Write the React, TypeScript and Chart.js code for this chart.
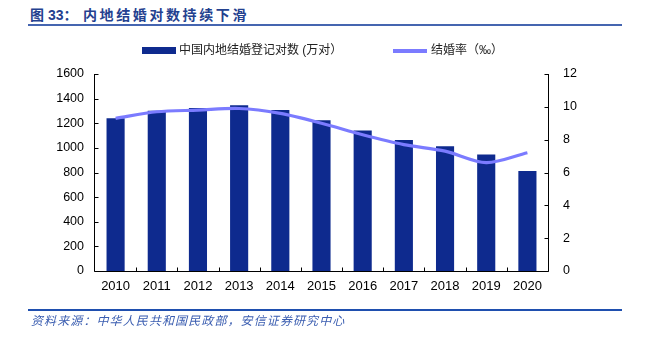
import React, { useEffect, useRef } from "react";
import { Chart, registerables } from "chart.js";

Chart.register(...registerables);

const years = ["2010", "2011", "2012", "2013", "2014", "2015", "2016", "2017", "2018", "2019", "2020"];
const marriages = [1241, 1302, 1324, 1347, 1307, 1225, 1142, 1063, 1014, 947, 813];
const rates = [9.3, 9.7, 9.8, 9.9, 9.6, 9.0, 8.3, 7.7, 7.3, 6.6, 7.2];
const leftMax = 1600;
const leftStep = 200;
const rightMax = 12;
const rightStep = 2;

const barLabel = "中国内地结婚登记对数 (万对）";
const lineLabel = "结婚率（‰）";
const titlePrefix = "图 33：";
const titleText = "内地结婚对数持续下滑";
const sourceText = "资料来源：中华人民共和国民政部，安信证券研究中心";

const BAR_COLOR = "#0E2A8E";
const LINE_COLOR = "#7B7BFF";
const NUM_FONT = "'Liberation Sans', Arial, 'Noto Sans CJK SC', sans-serif";
const CJK_FONT = "'Liberation Sans', 'Noto Sans CJK SC', sans-serif";

const axisPlugin = {
  id: "axisMarks",
  afterDatasetsDraw(chart: any) {
    const { ctx, chartArea: a, scales } = chart;
    const xs = scales.x;
    const yl = scales.yL;
    const yr = scales.yR;
    ctx.save();
    ctx.strokeStyle = "#000";
    ctx.lineWidth = 1;
    ctx.beginPath();
    const L = Math.round(a.left) - 0.5;
    const R = Math.round(a.right) + 0.5;
    const B = Math.round(a.bottom) + 0.5;
    const T = Math.round(a.top);
    ctx.moveTo(L, T);
    ctx.lineTo(L, B);
    ctx.moveTo(R, T);
    ctx.lineTo(R, B);
    ctx.moveTo(L, B);
    ctx.lineTo(R, B);
    yl.ticks.forEach((t: any) => {
      const y = Math.round(yl.getPixelForValue(t.value)) + 0.5;
      ctx.moveTo(L, y);
      ctx.lineTo(L + 4, y);
    });
    yr.ticks.forEach((t: any) => {
      const y = Math.round(yr.getPixelForValue(t.value)) + 0.5;
      ctx.moveTo(R, y);
      ctx.lineTo(R - 4, y);
    });
    for (let i = 0; i < years.length - 1; i++) {
      const x = Math.round((xs.getPixelForValue(i) + xs.getPixelForValue(i + 1)) / 2) + 0.5;
      ctx.moveTo(x, B);
      ctx.lineTo(x, B - 4);
    }
    ctx.stroke();
    ctx.restore();
  },
};

export default function App() {
  const ref = useRef<HTMLCanvasElement | null>(null);

  useEffect(() => {
    if (!ref.current) return;
    const chart = new Chart(ref.current, {
      type: "bar",
      data: {
        labels: years,
        datasets: [
          {
            type: "line",
            label: lineLabel,
            data: rates,
            yAxisID: "yR",
            borderColor: LINE_COLOR,
            backgroundColor: LINE_COLOR,
            borderWidth: 3.2,
            pointRadius: 0,
            tension: 0.3,
            order: 0,
          } as any,
          {
            type: "bar",
            label: barLabel,
            data: marriages,
            yAxisID: "yL",
            backgroundColor: BAR_COLOR,
            borderWidth: 0,
            categoryPercentage: 0.44,
            barPercentage: 1,
            order: 1,
          } as any,
        ],
      },
      options: {
        responsive: false,
        animation: false,
        devicePixelRatio: 1,
        layout: { padding: { left: 0, right: 0, top: 74, bottom: 0 } },
        plugins: {
          legend: { display: false },
          tooltip: { enabled: false },
          title: { display: false },
        },
        scales: {
          x: {
            grid: { display: false, drawTicks: false },
            border: { display: false },
            ticks: {
              color: "#000",
              padding: 8,
              maxRotation: 0,
              font: { family: NUM_FONT, size: 13 },
            },
            afterFit: (s: any) => {
              s.height = 70;
            },
          },
          yL: {
            position: "left",
            min: 0,
            max: leftMax,
            grid: { display: false, drawTicks: false },
            border: { display: false },
            ticks: {
              stepSize: leftStep,
              color: "#000",
              padding: 11,
              font: { family: NUM_FONT, size: 12.5 },
              callback: (v: any) => String(v),
            },
            afterFit: (s: any) => {
              s.width = 95;
            },
          },
          yR: {
            position: "right",
            min: 0,
            max: rightMax,
            grid: { display: false, drawTicks: false },
            border: { display: false },
            ticks: {
              stepSize: rightStep,
              color: "#000",
              padding: 15,
              font: { family: NUM_FONT, size: 12.5 },
              callback: (v: any) => String(v),
            },
            afterFit: (s: any) => {
              s.width = 99;
            },
          },
        },
      },
      plugins: [axisPlugin],
    });
    return () => chart.destroy();
  }, []);

  return (
    <div
      style={{
        position: "fixed",
        left: 0,
        top: 0,
        width: 647,
        height: 341,
        background: "#fff",
        overflow: "hidden",
      }}
    >
      <div
        style={{
          position: "absolute",
          left: 30,
          top: 6,
          fontFamily: CJK_FONT,
          fontSize: 14,
          fontWeight: "bold",
          color: "#24418F",
          lineHeight: "18px",
          whiteSpace: "nowrap",
        }}
      >
        {titlePrefix}
      </div>
      <div
        style={{
          position: "absolute",
          left: 83,
          top: 6,
          fontFamily: CJK_FONT,
          fontSize: 14,
          fontWeight: "bold",
          color: "#24418F",
          lineHeight: "18px",
          letterSpacing: 2.6,
          whiteSpace: "nowrap",
        }}
      >
        {titleText}
      </div>
      <div
        style={{
          position: "absolute",
          left: 28,
          top: 24,
          width: 594,
          height: 2,
          background: "#4565B0",
        }}
      />
      <canvas
        ref={ref}
        width={647}
        height={341}
        style={{ position: "absolute", left: 0, top: 0, width: 647, height: 341 }}
      />
      <div
        style={{
          position: "absolute",
          left: 142,
          top: 47,
          width: 34,
          height: 7,
          background: BAR_COLOR,
        }}
      />
      <div
        style={{
          position: "absolute",
          left: 179,
          top: 42,
          fontFamily: CJK_FONT,
          fontSize: 12,
          lineHeight: "16px",
          color: "#222",
          whiteSpace: "nowrap",
        }}
      >
        {barLabel}
      </div>
      <div
        style={{
          position: "absolute",
          left: 393,
          top: 49,
          width: 34,
          height: 4,
          background: LINE_COLOR,
        }}
      />
      <div
        style={{
          position: "absolute",
          left: 431,
          top: 42,
          fontFamily: CJK_FONT,
          fontSize: 12,
          lineHeight: "16px",
          color: "#222",
          whiteSpace: "nowrap",
        }}
      >
        {lineLabel}
      </div>
      <div
        style={{
          position: "absolute",
          left: 28,
          top: 309,
          width: 594,
          height: 2,
          background: "#1F4FAF",
        }}
      />
      <div
        style={{
          position: "absolute",
          left: 31,
          top: 312,
          fontFamily: "'Noto Sans CJK SC', sans-serif",
          fontStyle: "italic",
          fontSize: 12,
          lineHeight: "15px",
          letterSpacing: 1.1,
          color: "#3A5DB0",
          whiteSpace: "nowrap",
        }}
      >
        {sourceText}
      </div>
    </div>
  );
}
